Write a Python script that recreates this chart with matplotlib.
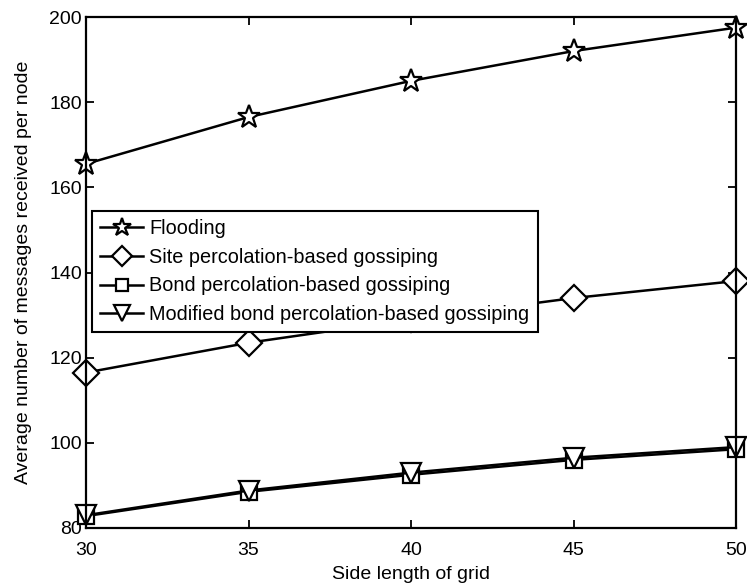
import matplotlib
matplotlib.use("Agg")
import matplotlib.pyplot as plt

plt.rcParams['font.family'] = ['Liberation Sans', 'DejaVu Sans']

x = [30, 35, 40, 45, 50]
flooding = [165.5, 176.5, 185, 192, 197.5]
site = [116.5, 123.5, 129, 134, 138]
bond = [82.8, 88.5, 92.5, 96, 98.5]
modified = [83, 88.8, 93, 96.5, 99]

labels = ["Flooding", "Site percolation-based gossiping",
          "Bond percolation-based gossiping",
          "Modified bond percolation-based gossiping"]
markers = ['*', 'D', 's', 'v']
sizes = [17, 13, 11, 14]

fig = plt.figure(figsize=(7.47, 5.87), dpi=100)
ax = fig.add_axes([86/747, 1-528/587, (736-86)/747, (528-17)/587])

for ys, lab, m, s in zip([flooding, site, bond, modified], labels, markers, sizes):
    ax.plot(x, ys, color='black', lw=1.8, marker=m, markersize=s,
            markerfacecolor='white', markeredgecolor='black', markeredgewidth=1.6,
            label=lab, clip_on=False)

ax.set_xlim(30, 50)
ax.set_ylim(80, 200)
ax.set_xticks([30, 35, 40, 45, 50])
ax.set_yticks([80, 100, 120, 140, 160, 180, 200])
ax.tick_params(direction='in', length=6, width=1.3, labelsize=14, top=True, right=True)
ax.tick_params(axis='x', pad=10)
ax.tick_params(axis='y', pad=3)
for sp in ax.spines.values():
    sp.set_linewidth(1.6)
ax.set_xlabel("Side length of grid", fontsize=14, labelpad=5)
ax.set_ylabel("Average number of messages received per node", fontsize=14, labelpad=12)

leg = ax.legend(loc='upper left', bbox_to_anchor=(0.009, 0.621), fontsize=14.3,
                frameon=True, fancybox=False, edgecolor='black', framealpha=1,
                borderpad=0.4, labelspacing=0.5, handlelength=2.2, handletextpad=0.3,
                borderaxespad=0, markerscale=0.8)
leg.get_frame().set_linewidth(1.5)

fig.savefig("out.png", dpi=100)
